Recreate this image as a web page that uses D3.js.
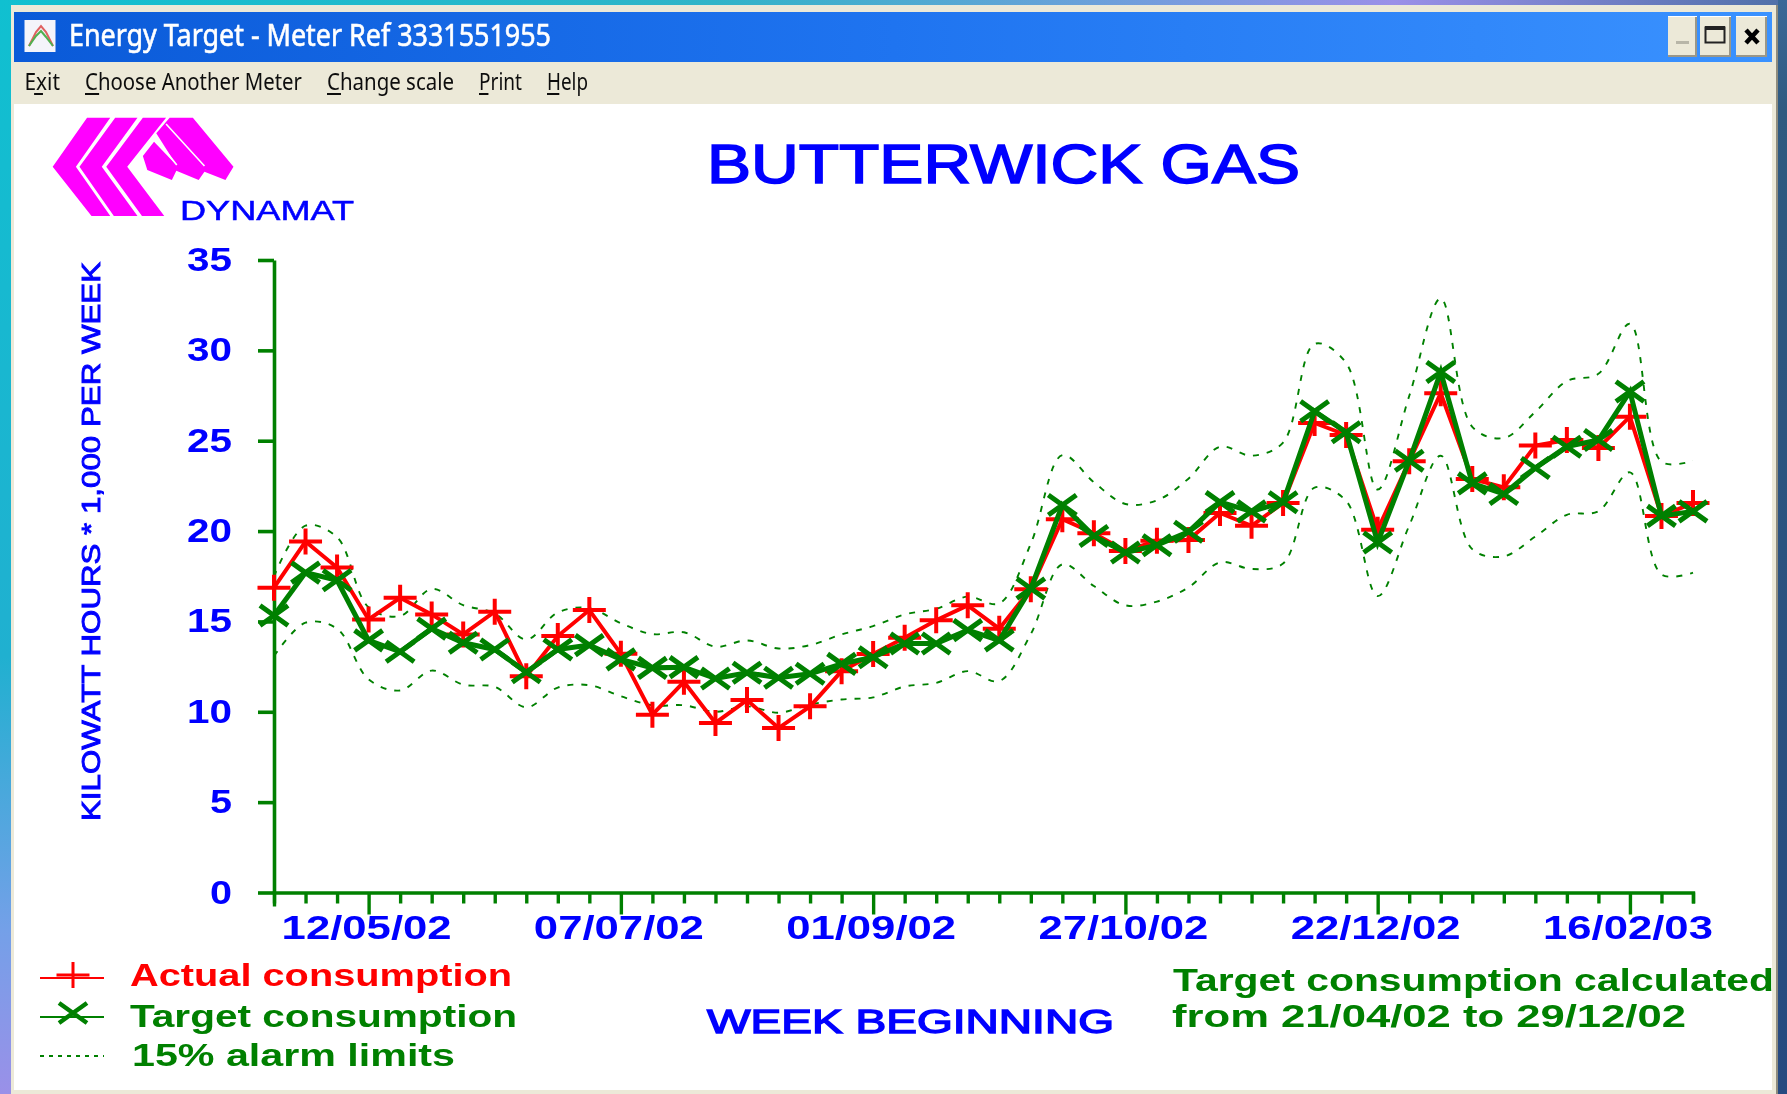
<!DOCTYPE html>
<html><head><meta charset="utf-8">
<script src="https://cdn.jsdelivr.net/npm/d3@7"></script>
<style>html,body{margin:0;padding:0;background:#fff;overflow:hidden}svg{display:block}text{font-family:"Liberation Sans",Arial,sans-serif}</style>
</head><body><svg id="c" width="1787" height="1094"></svg>
<script>
const actual=[16.87,19.42,17.98,15.11,16.31,15.39,14.28,15.54,11.97,14.19,15.63,13.21,9.84,11.66,9.38,10.65,9.1,10.3,12.25,13.2,14.1,15.07,15.89,14.6,16.78,20.66,19.88,18.9,19.46,19.5,21.0,20.29,21.55,25.98,25.32,20.07,23.86,27.63,22.88,22.42,24.73,25.04,24.6,26.33,20.84,21.55];
const target=[15.33,17.7,17.28,13.95,13.32,14.6,13.82,13.45,12.19,13.45,13.69,12.9,12.43,12.47,11.84,12.16,11.88,12.1,12.65,13.02,13.78,13.78,14.52,13.95,16.82,21.44,19.73,18.81,19.22,19.96,21.6,21.09,21.59,26.63,25.47,19.37,23.89,28.8,22.64,22.05,23.49,24.67,25.04,27.72,20.84,21.09];
const upper=[17.5,20.3,19.66,15.78,15.3,16.8,15.9,15.45,14.0,15.5,15.74,14.9,14.3,14.4,13.6,13.95,13.5,13.69,14.28,14.74,15.39,15.7,16.37,16.0,19.3,24.2,22.7,21.5,21.7,22.9,24.67,24.17,24.9,30.36,29.3,22.3,27.47,32.87,25.77,25.15,26.6,28.3,28.7,31.47,23.84,23.89];
const lower=[13.08,14.93,14.6,11.79,11.18,12.28,11.5,11.38,10.25,11.34,11.47,10.86,10.36,10.36,10.0,10.3,9.95,10.4,10.68,10.8,11.4,11.6,12.25,11.7,14.3,18.16,16.96,15.89,16.1,16.88,18.27,17.9,18.2,22.4,21.67,16.4,20.3,24.17,19.0,18.6,19.7,20.9,21.1,23.25,17.6,17.7];
const yTicks=[0,5,10,15,20,25,30,35];
const labelledWeeks=[3,11,19,27,35,43];
const weekLabels=["12/05/02","07/07/02","01/09/02","27/10/02","22/12/02","16/02/03"];
const legendLabels=["Actual consumption","Target consumption","15% alarm limits"];

const RED="#ff0000",GREEN="#008000",BLUE="#0000ff",MAG="#ff00ff";
const svg=d3.select("#c");
const defs=svg.append("defs");
function grad(id,x2,y2,stops){const g=defs.append("linearGradient").attr("id",id).attr("x1",0).attr("y1",0).attr("x2",x2).attr("y2",y2);
  stops.forEach(([o,c])=>g.append("stop").attr("offset",o).attr("stop-color",c));}
grad("gTop",1,0,[[0,"#10c0d0"],[.4,"#30b4c8"],[.78,"#9a90e8"],[1,"#4f70a8"]]);
grad("gLeft",0,1,[[0,"#10c0d0"],[.6,"#20b0d0"],[.85,"#74a0e8"],[1,"#9a90e8"]]);
grad("gRight",0,1,[[0,"#3a6898"],[.1,"#2f5a80"],[1,"#264a80"]]);
grad("gTitle",1,0,[[0,"#0a5ad8"],[.5,"#1f74f0"],[1,"#3a92ff"]]);
defs.append("filter").attr("id","soft").attr("x","-5%").attr("y","-5%").attr("width","110%").attr("height","110%")
  .append("feGaussianBlur").attr("stdDeviation",0.6);

const rect=(p,x,y,w,h,f)=>p.append("rect").attr("x",x).attr("y",y).attr("width",w).attr("height",h).attr("fill",f);
rect(svg,0,0,1787,1094,"#2f5a80");
rect(svg,0,0,11,1094,"url(#gLeft)");
rect(svg,0,0,1787,5,"url(#gTop)");
rect(svg,1778,0,9,1094,"url(#gRight)");
rect(svg,11,5,1767,1089,"#ece9d8");
rect(svg,1776,5,2,1089,"#8f8c7e");
rect(svg,14,12,1758,50,"url(#gTitle)");
rect(svg,14,104,1758,986,"#ffffff");

const root=svg.append("g").attr("filter","url(#soft)");
function fit(p,str,x,y,w,size,fill,opts={}){
  const t=p.append("text").attr("x",x).attr("y",y).attr("font-size",size).attr("fill",fill)
    .attr("textLength",w).attr("lengthAdjust","spacingAndGlyphs").text(str);
  if(opts.weight)t.attr("font-weight",opts.weight);
  if(opts.family)t.style("font-family",opts.family);
  if(opts.stroke)t.attr("stroke",fill).attr("stroke-width",opts.stroke);
  return t;
}
// title bar
const ic=root.append("g");
rect(ic,24.5,20,31,32,"#f4f4fa");
ic.append("path").attr("d","M29 46 L36 32 L41 26 L46 32 L53 46").attr("fill","none").attr("stroke","#e06060").attr("stroke-width",2);
ic.append("path").attr("d","M29 46 L36 36 L41 31 L46 37 L53 46").attr("fill","none").attr("stroke","#50b050").attr("stroke-width",2);
fit(root,"Energy Target - Meter Ref 3331551955",69,46,482,30,"#fff",{family:'"Noto Sans",sans-serif',stroke:.6});
[[1668,29],[1700,31],[1736,31]].forEach(([x,w])=>{
  rect(root,x,16,w,41,"#ece9d8");
  rect(root,x+w-2,16,2,41,"#9a9788");rect(root,x,55,w,2,"#9a9788");rect(root,x,16,w,1,"#fff");
});
rect(root,1676,41,13,3,"#b8b6a8");
root.append("rect").attr("x",1705.5).attr("y",27.5).attr("width",19).attr("height",15).attr("fill","none").attr("stroke","#222").attr("stroke-width",2);
rect(root,1705,26,20,4,"#222");
root.append("path").attr("d","M1746 30 L1758 43 M1758 30 L1746 43").attr("stroke","#000").attr("stroke-width",4.5);
// menu
[["Exit",24.5,35.5,1],["Choose Another Meter",85,217,0],["Change scale",327,127,0],["Print",479,43,0],["Help",547,41,0]].forEach(([s,x,w,u])=>{
  root.append("text").attr("x",x).attr("y",90).attr("font-size",24).attr("fill","#111")
    .attr("textLength",w).attr("lengthAdjust","spacingAndGlyphs").style("font-family",'"Noto Sans",sans-serif').text(s);
  const xs=x+(u?w*.27:0),uw=u?w*.25:w*(s=="Choose Another Meter"?.065:s=="Change scale"?.11:s=="Print"?.22:.3);
  rect(root,xs,93,uw,2,"#111");
});
// logo
const lg=root.append("g").attr("fill",MAG);
const sx=1/2.24,sy=1/3;
const poly=(pts,f)=>lg.append("polygon").attr("points",pts.map(([a,b])=>[a*sx,b*sy].join(",")).join(" ")).attr("fill",f||MAG);
poly([[195,353],[247,353],[170,500],[247,648],[205,648],[118,500]]);
poly([[258,353],[308,353],[228,500],[308,648],[255,648],[178,500]]);
poly([[320,353],[372,353],[285,500],[368,648],[318,648],[238,500]]);
poly([[380,353],[432,353],[523,500],[505,540],[458,515],[445,540],[395,512],[385,540],[330,510],[320,468],[345,425],[395,495],[350,400]]);
root.append("path").attr("d",`M${372*sx} ${372*sy} L${458*sx} ${498*sy} M${352*sx} ${420*sy} L${396*sx} ${495*sy}`).attr("stroke","#fff").attr("stroke-width",1.6).attr("fill","none");
fit(root,"DYNAMAT",180,220,174,28,BLUE,{stroke:.5});
fit(root,"BUTTERWICK GAS",707,183,593,56,BLUE,{stroke:1.6});

// scales + axes
const x=d3.scaleLinear().domain([0,actual.length-1]).range([274,1693]);
const y=d3.scaleLinear().domain([0,35]).range([892.5,260]);
const plot=root.append("g");
const yA=plot.append("g").attr("transform","translate(274,0)").call(d3.axisLeft(y).tickValues(yTicks).tickSize(16).tickSizeOuter(0).tickPadding(26));
yA.selectAll("path,line").attr("stroke",GREEN).attr("stroke-width",3.6);
yA.selectAll("text").attr("fill",BLUE).attr("font-size",33).attr("font-weight","bold")
  .attr("textLength",d=>d<10?22:45).attr("lengthAdjust","spacingAndGlyphs").style("font-family",'"Liberation Sans"')
  .attr("x",-42).attr("dy",null).attr("y",10.5);
const allWeeks=actual.map((_,i)=>i);
const xA=plot.append("g").attr("transform","translate(0,892.5)").call(d3.axisBottom(x).tickValues(allWeeks).tickSizeOuter(0).tickSize(11)
  .tickFormat(i=>{const k=labelledWeeks.indexOf(i);return k<0?"":weekLabels[k];}));
xA.selectAll("path,line").attr("stroke",GREEN).attr("stroke-width",3.4);
xA.selectAll("line").attr("y2",i=>labelledWeeks.includes(i)?22:(i==0?14:11));
xA.selectAll("text").attr("fill",BLUE).attr("font-size",33).attr("font-weight","bold").attr("x",-2.5).attr("y",46.5).attr("dy",null)
  .style("font-family",'"Liberation Sans"')
  .each(function(i){ if(labelledWeeks.includes(i)) d3.select(this).attr("textLength",170).attr("lengthAdjust","spacingAndGlyphs");});

// series
const straight=d3.line().x((d,i)=>x(i)).y(d=>y(d));
const smooth=d3.line().x((d,i)=>x(i)).y(d=>y(d)).curve(d3.curveCatmullRom.alpha(.5));
[upper,lower].forEach(s=>plot.append("path").attr("d",smooth(s)).attr("fill","none").attr("stroke",GREEN).attr("stroke-width",1.9).attr("stroke-dasharray","6 8"));
plot.append("path").attr("d",straight(actual)).attr("fill","none").attr("stroke",RED).attr("stroke-width",4);
const plus=(p,cx,cy,w=4)=>p.append("path").attr("d",`M${cx-16.5} ${cy}H${cx+16.5}M${cx} ${cy-13}V${cy+13}`).attr("stroke",RED).attr("stroke-width",w).attr("fill","none");
const cross=(p,cx,cy,w=5)=>p.append("path").attr("d",`M${cx-14} ${cy-10}L${cx+14} ${cy+10}M${cx+14} ${cy-10}L${cx-14} ${cy+10}`).attr("stroke",GREEN).attr("stroke-width",w).attr("fill","none");
actual.forEach((d,i)=>plus(plot,x(i),y(d)));
plot.append("path").attr("d",straight(target)).attr("fill","none").attr("stroke",GREEN).attr("stroke-width",5);
target.forEach((d,i)=>cross(plot,x(i),y(d)));

// text labels
const yt=root.append("g").attr("transform","translate(100,821) rotate(-90)");
fit(yt,"KILOWATT HOURS * 1,000 PER WEEK",0,0,559,26,BLUE,{stroke:.9});
fit(root,"WEEK BEGINNING",707,1033,407,34,BLUE,{stroke:1.4});
// legend
const lineH=(yy,c,w)=>root.append("line").attr("x1",40).attr("x2",104).attr("y1",yy).attr("y2",yy).attr("stroke",c).attr("stroke-width",w);
lineH(978,RED,2);plus(root,73,975,3);
lineH(1017,GREEN,2);cross(root,73,1013,4.5);
lineH(1056,GREEN,1.8).attr("stroke-dasharray","4 5");
fit(root,legendLabels[0],130,986,382,32,RED,{weight:"bold"});
fit(root,legendLabels[1],130,1027,387,32,GREEN,{weight:"bold"});
fit(root,legendLabels[2],132,1066,323,32,GREEN,{weight:"bold"});
fit(root,"Target consumption calculated",1173,991,601,32,GREEN,{weight:"bold"});
fit(root,"from 21/04/02 to 29/12/02",1172,1027,514,32,GREEN,{weight:"bold"});
</script></body></html>
